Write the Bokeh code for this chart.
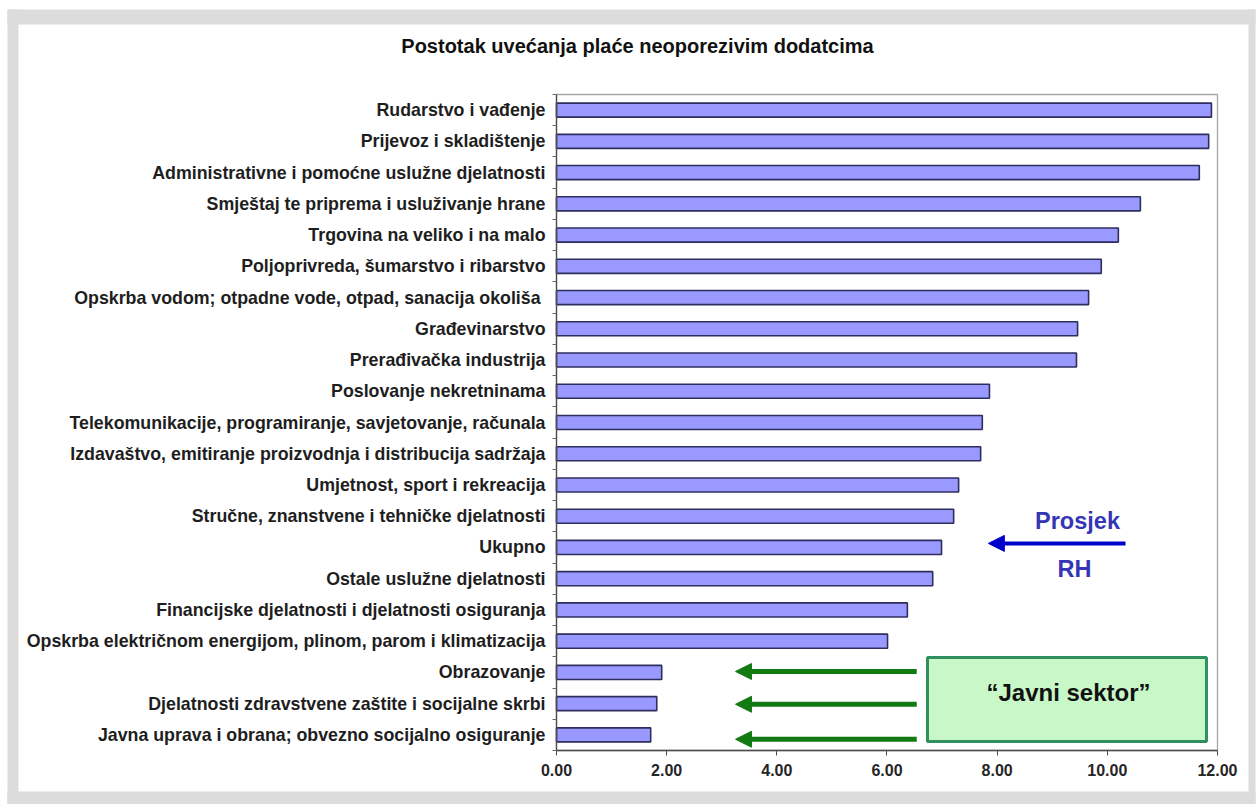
from bokeh.plotting import figure
from bokeh.models import (Range1d, ColumnDataSource, BoxAnnotation, Label,
                          Arrow, NormalHead, NumeralTickFormatter, FixedTicker)
from bokeh.embed import file_html
from bokeh.resources import INLINE

# ---------------- data (top to bottom as shown) ----------------
categories = [
    "Rudarstvo i vađenje",
    "Prijevoz i skladištenje",
    "Administrativne i pomoćne uslužne djelatnosti",
    "Smještaj te priprema i usluživanje hrane",
    "Trgovina na veliko i na malo",
    "Poljoprivreda, šumarstvo i ribarstvo",
    "Opskrba vodom;  otpadne vode, otpad, sanacija okoliša",
    "Građevinarstvo",
    "Prerađivačka industrija",
    "Poslovanje nekretninama",
    "Telekomunikacije, programiranje, savjetovanje, računala",
    "Izdavaštvo, emitiranje proizvodnja i distribucija sadržaja",
    "Umjetnost, sport i rekreacija",
    "Stručne, znanstvene i tehničke djelatnosti",
    "Ukupno",
    "Ostale uslužne djelatnosti",
    "Financijske djelatnosti i djelatnosti osiguranja",
    "Opskrba električnom energijom, plinom, parom i klimatizacija",
    "Obrazovanje",
    "Djelatnosti zdravstvene zaštite i socijalne skrbi",
    "Javna uprava i obrana; obvezno socijalno osiguranje",
]
values = [11.89, 11.84, 11.67, 10.60, 10.20, 9.89, 9.66, 9.46, 9.44, 7.86, 7.73,
          7.70, 7.30, 7.21, 6.99, 6.83, 6.37, 6.01, 1.91, 1.82, 1.71]
x_ticks = [0, 2, 4, 6, 8, 10, 12]

title_text = "Postotak uvećanja plaće neoporezivim dodatcima"
avg_text_top = "Prosjek"
avg_text_bottom = "RH"
public_text = "\u201cJavni sektor\u201d"

# ---------------- layout helpers: canvas pixel -> data ----------------
PX_X0, PX_PER_X = 556.0, 55.083     # x = 0 at pixel 556
PX_Y0, PX_PER_Y = 750.0, 31.238     # slot 0 at pixel 750
W, H = 1257, 804


def dx(px):
    return (px - PX_X0) / PX_PER_X


def dy(py):
    return (PX_Y0 - py) / PX_PER_Y


# ---------------- annotation placement (data coordinates) ----------------
avg_arrow = dict(x_start=10.33, x_end=7.84, y=6.63)
public_arrow_x = (6.54, 3.25)
public_arrow_y = [2.53, 1.48, 0.36]
public_box = dict(left=6.735, right=11.80, bottom=0.29, top=2.977)

FONT = "Liberation Sans"

n = len(categories)
slots = [n - i - 0.5 for i in range(n)]          # row slot of each category
src = ColumnDataSource(dict(cat=categories, slot=slots, val=values))

p = figure(width=W, height=H, output_backend="svg", toolbar_location=None,
           x_range=Range1d(dx(0), dx(W)), y_range=Range1d(dy(H), dy(0)),
           min_border_left=0, min_border_right=0, min_border_top=0, min_border_bottom=0,
           border_fill_color="white", background_fill_color="white",
           outline_line_color=None)

# grey picture frame around the white panel
grey = "#dcdcdc"
for (l, r, t, b) in [(7, 1255, 9, 24), (7, 1255, 791, 804), (7, 18, 9, 804), (1248, 1255, 9, 804)]:
    p.add_layout(BoxAnnotation(left=dx(l), right=dx(r), top=dy(t), bottom=dy(b),
                               fill_color=grey, fill_alpha=1, line_color=None,
                               level="underlay"))

# plot-area frame (grey top/right edges)
p.add_layout(BoxAnnotation(left=0, right=12, bottom=0, top=n,
                           fill_alpha=0, line_color="#a6a6a6", line_alpha=1,
                           line_width=1.3, level="underlay"))

p.hbar(y="slot", left=0, right="val", height=0.45, source=src,
       fill_color="#9999ff", line_color="#2e2e5e", line_width=1.6)

p.xgrid.grid_line_color = None
p.ygrid.grid_line_color = None

xa = p.xaxis[0]
xa.fixed_location = 0
xa.bounds = (0, 12)
xa.ticker = FixedTicker(ticks=x_ticks)
xa.formatter = NumeralTickFormatter(format="0.00")
xa.major_label_text_font = FONT
xa.major_label_text_font_style = "bold"
xa.major_label_text_font_size = "16px"
xa.major_label_text_color = "#262626"
xa.axis_line_color = "#4d4d4d"
xa.axis_line_width = 1.3
xa.major_tick_line_color = "#4d4d4d"
xa.major_tick_out = 5
xa.major_tick_in = 0
xa.minor_tick_line_color = None
xa.major_label_standoff = 8

ya = p.yaxis[0]
ya.fixed_location = 0
ya.bounds = (0, n)
ya.ticker = FixedTicker(ticks=slots, minor_ticks=list(range(n + 1)))
ya.major_label_overrides = {s: c for s, c in zip(slots, categories)}
ya.major_label_text_font = FONT
ya.major_label_text_font_style = "bold"
ya.major_label_text_font_size = "17.8px"
ya.major_label_text_color = "#1e1e1e"
ya.axis_line_color = "#4d4d4d"
ya.axis_line_width = 1.3
ya.major_tick_line_color = None
ya.major_tick_out = 4
ya.major_tick_in = 0
ya.minor_tick_line_color = "#666666"
ya.minor_tick_out = 4
ya.minor_tick_in = 0
ya.major_label_standoff = 7

# title
p.add_layout(Label(x=dx(637), y=dy(45), text=title_text, text_align="center",
                   text_baseline="middle", text_font=FONT, text_font_style="bold",
                   text_font_size="20px", text_color="#111111"))

# average arrow
blue = "#0000cc"
p.add_layout(Arrow(end=NormalHead(size=16, fill_color=blue, line_color=blue),
                   x_start=avg_arrow["x_start"], y_start=avg_arrow["y"],
                   x_end=avg_arrow["x_end"], y_end=avg_arrow["y"],
                   line_color=blue, line_width=4))
p.add_layout(Label(x=dx(1077), y=dy(520), text=avg_text_top, text_align="center",
                   text_baseline="middle", text_font=FONT, text_font_style="bold",
                   text_font_size="23.5px", text_color="#3535b5"))
p.add_layout(Label(x=dx(1074), y=dy(568), text=avg_text_bottom, text_align="center",
                   text_baseline="middle", text_font=FONT, text_font_style="bold",
                   text_font_size="23.5px", text_color="#3535b5"))

# public sector arrows and box
green = "#127a12"
for yy in public_arrow_y:
    p.add_layout(Arrow(end=NormalHead(size=16, fill_color=green, line_color=green),
                       x_start=public_arrow_x[0], y_start=yy,
                       x_end=public_arrow_x[1], y_end=yy,
                       line_color=green, line_width=5))
p.add_layout(BoxAnnotation(left=public_box["left"], right=public_box["right"],
                           bottom=public_box["bottom"], top=public_box["top"],
                           fill_color="#c8f7c8", fill_alpha=1,
                           line_color="#2f8f5f", line_alpha=1, line_width=3))
p.add_layout(Label(x=dx(1068), y=dy(692), text=public_text, text_align="center",
                   text_baseline="middle", text_font=FONT, text_font_style="bold",
                   text_font_size="24px", text_color="#111111"))

open("out.html", "w").write(file_html(p, INLINE))
